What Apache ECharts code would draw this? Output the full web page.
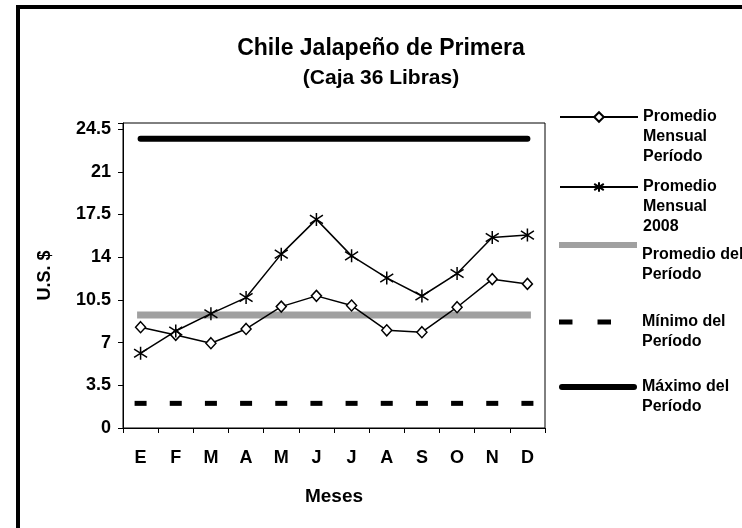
<!DOCTYPE html>
<html lang="es">
<head>
    <meta charset="UTF-8">
    <title>Chile Jalapeño de Primera</title>
    <script src="https://cdn.jsdelivr.net/npm/echarts@6/dist/echarts.min.js"></script>
</head>
<body style="margin:0;background:#fff;">
    <div id="main" style="width:742px;height:528px;"></div>
    <script type="text/javascript">
       // datos
       var meses = ['E', 'F', 'M', 'A', 'M', 'J', 'J', 'A', 'S', 'O', 'N', 'D'];
       var promMensualPeriodo = [8.26, 7.63, 6.95, 8.12, 9.95, 10.83, 10.04, 8.01, 7.85, 9.9, 12.2, 11.81];
       var promMensual2008 = [6.13, 7.95, 9.37, 10.69, 14.25, 17.1, 14.11, 12.3, 10.82, 12.66, 15.62, 15.81];
       var promedioPeriodo = [9.26, 9.26, 9.26, 9.26, 9.26, 9.26, 9.26, 9.26, 9.26, 9.26, 9.26, 9.26];
       var minimoPeriodo = [2.02, 2.02, 2.02, 2.02, 2.02, 2.02, 2.02, 2.02, 2.02, 2.02, 2.02, 2.02];
       var maximoPeriodo = [23.71, 23.71, 23.71, 23.71, 23.71, 23.71, 23.71, 23.71, 23.71, 23.71, 23.71, 23.71];
       var yTicks = [0, 3.5, 7, 10.5, 14, 17.5, 21, 24.5];

       var font = '"Liberation Sans", Arial, sans-serif';
       var starPath = 'path://M5,0L5,10M0,1.8L10,8.2M0,8.2L10,1.8';

       var myChart = echarts.init(document.getElementById('main'));

       // una leyenda por serie; las lineas en blanco del principio bajan el texto
       // para que la primera linea quede a la altura del icono
       function legendBox(name, text, top, extra) {
           var lg = {
               data: [name],
               left: 559,
               top: top,
               padding: 0,
               itemWidth: 78,
               itemHeight: 12,
               selectedMode: false,
               symbolKeepAspect: false,
               formatter: function () { return text; },
               textStyle: {
                   fontFamily: font,
                   fontSize: 16,
                   fontWeight: 'bold',
                   color: '#000',
                   lineHeight: 20
               }
           };
           for (var k in extra) { lg[k] = extra[k]; }
           return lg;
       }

       var option = {
           animation: false,
           backgroundColor: '#fff',
           title: {
               text: 'Chile Jalapeño de Primera',
               subtext: '(Caja 36 Libras)',
               left: 376,
               textAlign: 'center',
               top: 32,
               itemGap: 8,
               textStyle: { fontFamily: font, fontSize: 23, fontWeight: 'bold', color: '#000' },
               subtextStyle: { fontFamily: font, fontSize: 21, fontWeight: 'bold', color: '#000' }
           },
           graphic: [{
               type: 'rect',
               shape: { x: 18, y: 7, width: 800, height: 600 },
               style: { fill: null, stroke: '#000', lineWidth: 4 },
               silent: true
           }],
           legend: [
               legendBox('Promedio Mensual Período', '\n\nPromedio\nMensual\nPeríodo', 67, {}),
               legendBox('Promedio Mensual 2008', '\n\nPromedio\nMensual\n2008', 137, {}),
               legendBox('Promedio del Período', '\n\nPromedio del\nPeríodo', 205, {
                   itemHeight: 6,
                   data: [{ name: 'Promedio del Período', icon: 'path://M0,0H78V6H0Z' }]
               }),
               legendBox('Mínimo del Período', '\nMínimo del\nPeríodo', 292, {
                   itemHeight: 5,
                   data: [{ name: 'Mínimo del Período', icon: 'path://M0,0H14V5H0ZM40,0H54V5H40ZM81,0L81,5Z' }]
               }),
               legendBox('Máximo del Período', '\nMáximo del\nPeríodo', 357, {
                   itemHeight: 6,
                   data: [{ name: 'Máximo del Período', icon: 'path://M3,0H75A3,3,0,0,1,75,6H3A3,3,0,0,1,3,0Z' }]
               })
           ],
           grid: {
               left: 123,
               top: 123,
               right: 197,
               bottom: 100,
               show: true,
               borderColor: '#000',
               borderWidth: 1
           },
           xAxis: {
               type: 'category',
               data: meses,
               boundaryGap: true,
               name: 'Meses',
               nameLocation: 'middle',
               nameGap: 59,
               nameTextStyle: { fontFamily: font, fontSize: 19, fontWeight: 'bold', color: '#000' },
               axisLine: { lineStyle: { color: '#000', width: 1 } },
               axisTick: { show: true, length: 5, interval: 0, lineStyle: { color: '#000' } },
               axisLabel: {
                   interval: 0,
                   margin: 21,
                   fontFamily: font, fontSize: 18, fontWeight: 'bold', color: '#000'
               }
           },
           yAxis: {
               type: 'value',
               min: 0,
               max: 25,
               interval: 3.5,
               name: 'U.S. $',
               nameLocation: 'middle',
               nameGap: 69,
               nameTextStyle: { fontFamily: font, fontSize: 18, fontWeight: 'bold', color: '#000' },
               splitLine: { show: false },
               axisLine: { show: true, lineStyle: { color: '#000', width: 1 } },
               axisTick: { show: true, length: 5, lineStyle: { color: '#000' } },
               axisLabel: {
                   margin: 12,
                   fontFamily: font, fontSize: 18, fontWeight: 'bold', color: '#000',
                   formatter: function (v) {
                       return yTicks.indexOf(v) >= 0 ? String(v) : '';
                   }
               }
           },
           series: [
               {
                   name: 'Máximo del Período',
                   type: 'line',
                   data: maximoPeriodo,
                   symbol: 'none',
                   color: '#000',
                   lineStyle: { color: '#000', width: 6, cap: 'round' }
               },
               {
                   name: 'Promedio del Período',
                   type: 'line',
                   data: promedioPeriodo,
                   symbol: 'none',
                   color: '#a0a0a0',
                   lineStyle: { color: '#a0a0a0', width: 7, cap: 'square' }
               },
               {
                   name: 'Mínimo del Período',
                   type: 'line',
                   data: minimoPeriodo,
                   symbol: 'rect',
                   symbolSize: [12, 5],
                   color: '#000',
                   itemStyle: { color: '#000' },
                   lineStyle: { opacity: 0 }
               },
               {
                   name: 'Promedio Mensual Período',
                   type: 'line',
                   data: promMensualPeriodo,
                   symbol: 'diamond',
                   symbolSize: [10, 11],
                   color: '#000',
                   itemStyle: { color: '#fff', borderColor: '#000', borderWidth: 1.5 },
                   lineStyle: { color: '#000', width: 1.5 }
               },
               {
                   name: 'Promedio Mensual 2008',
                   type: 'line',
                   data: promMensual2008,
                   symbol: starPath,
                   symbolSize: 13,
                   symbolKeepAspect: false,
                   color: '#000',
                   itemStyle: { color: '#000', borderColor: '#000', borderWidth: 1.5 },
                   lineStyle: { color: '#000', width: 1.5 }
               }
           ]
       };

       myChart.setOption(option);
    </script>
</body>
</html>
